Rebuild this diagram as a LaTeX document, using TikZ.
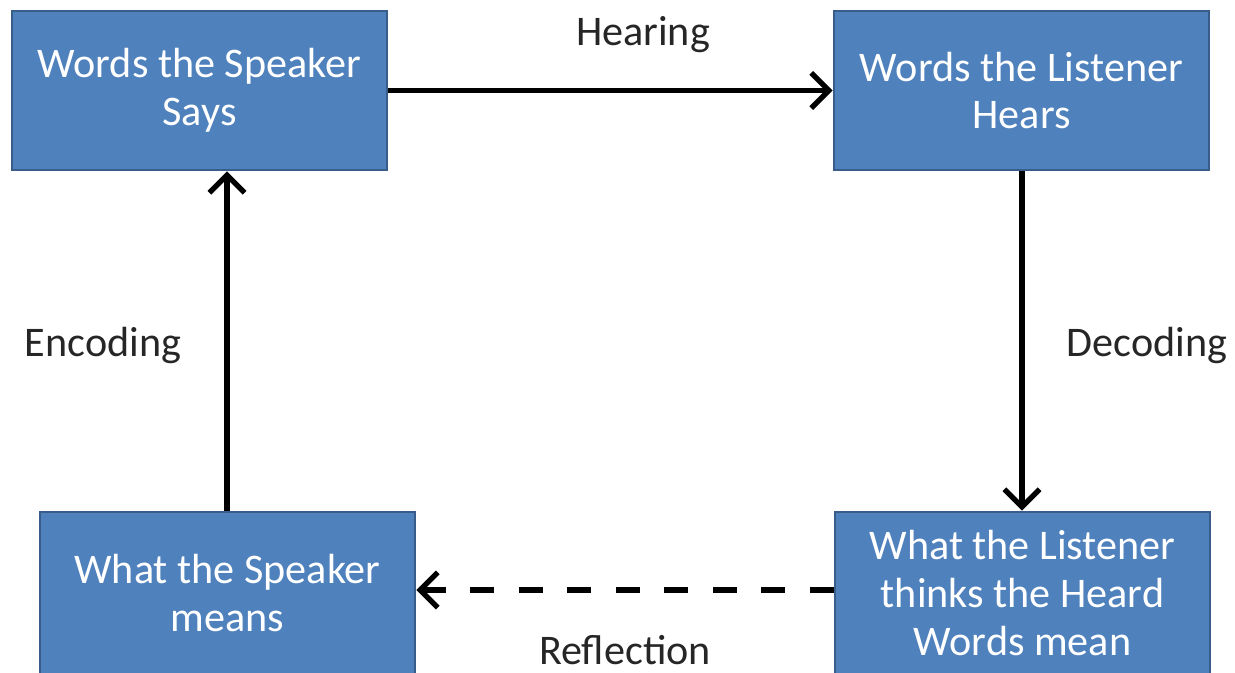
\documentclass[tikz,border=0pt]{standalone}
\usepackage{fontspec}
\setmainfont{Carlito}
\usetikzlibrary{arrows.meta}
\definecolor{boxblue}{HTML}{4F81BD}
\definecolor{boxedge}{HTML}{385D8A}
\begin{document}
\begin{tikzpicture}[
    block/.style={draw=boxedge, fill=boxblue, line width=0.8pt, text=white,
        minimum width=3.75cm, minimum height=1.59cm, align=center,
        font=\fontsize{12}{13.6}\selectfont},
    flow/.style={line width=1.5pt, -{Straight Barb[length=5pt,width=10pt]}},
    lbl/.style={text=black!85, font=\fontsize{12}{13.6}\selectfont}
]
\begin{scope}
    % Frame
    \useasboundingbox (0, 0) rectangle (12.35, -6.72);
    \clip (0, 0) rectangle (12.35, -6.72);

    % Define nodes
    \node[block] (says) at (1.995, -0.905) {Words the Speaker\\Says};
    \node[block] (hears) at (10.215, -0.905) {Words the Listener\\Hears};
    \node[block, minimum height=1.62cm] (means) at (2.275, -5.93) {What the Speaker\\means};
    \node[block, minimum height=1.62cm] (thinks) at (10.225, -5.93) {What the Listener\\thinks the Heard\\Words mean};

    % Arrows between the boxes
    \draw[flow] (says) -- (hears);
    \draw[flow] (hears.south -| 10.22, 0) -- (thinks.north -| 10.22, 0);
    \draw[flow] (means.north -| 2.27, 0) -- (says.south -| 2.27, 0);
    \draw[flow, dash pattern=on 6.8pt off 7pt] (thinks.west |- 0, -5.9) -- (means.east |- 0, -5.9);

    % Labels
    \node[lbl] (hearing) at (6.43, -0.35) {Hearing};
    \node[lbl] (encoding) at (1.03, -3.45) {Encoding};
    \node[lbl] (decoding) at (11.47, -3.45) {Decoding};
    \node[lbl, inner sep=1pt] (reflection) at (6.25, -6.5) {Reflection};
\end{scope}
\end{tikzpicture}
\end{document}
